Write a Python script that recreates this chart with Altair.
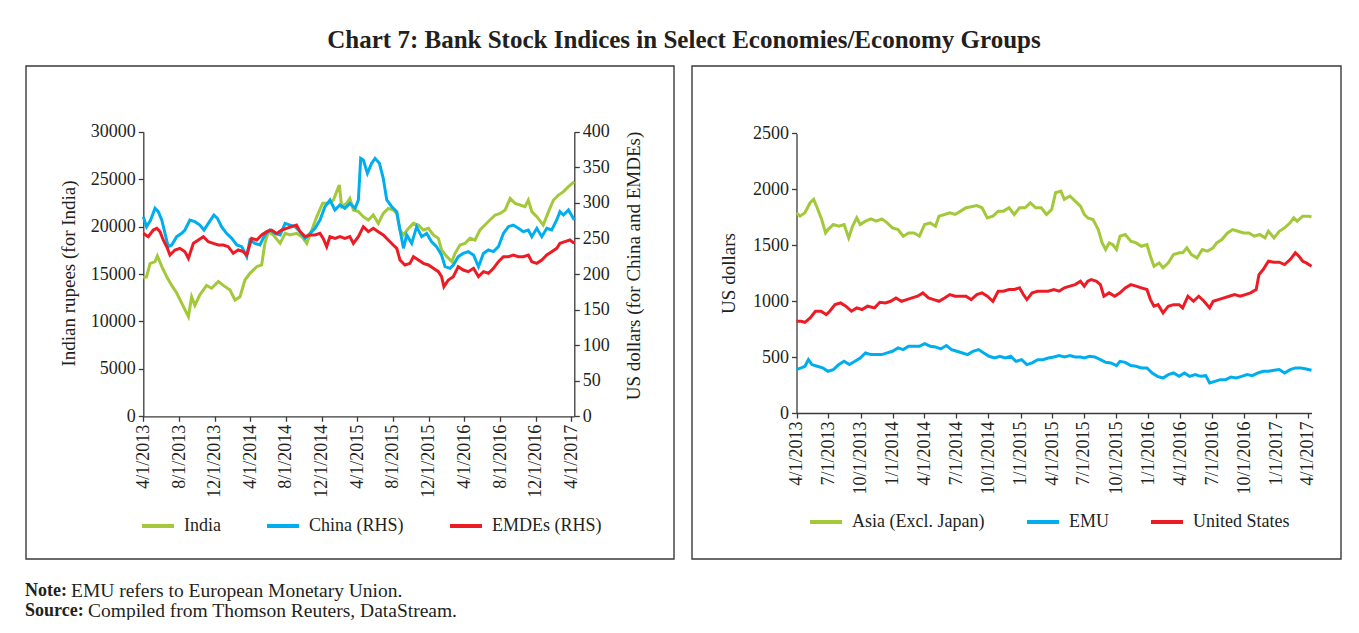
import altair as alt
import pandas as pd

# ---------------- texts ----------------
TITLE = "Chart 7: Bank Stock Indices in Select Economies/Economy Groups"
NOTE_LABEL = "Note:"
NOTE_TEXT = "EMU refers to European Monetary Union."
SOURCE_LABEL = "Source:"
SOURCE_TEXT = "Compiled from Thomson Reuters, DataStream."
LEFT_Y_TITLE = "Indian rupees (for India)"
RHS_Y_TITLE = "US dollars (for China and EMDEs)"
RIGHT_Y_TITLE = "US dollars"

LEFT_SERIES = ["India", "China (RHS)", "EMDEs (RHS)"]
RIGHT_SERIES = ["Asia (Excl. Japan)", "EMU", "United States"]
COLORS = ["#a3c93a", "#00aeef", "#ed1c24"]

# ---------------- axis ticks ----------------
START_DATE = "2013-04-01"
END_DATE = "2017-04-11"
LEFT_X_TICKS = ["2013-04-01", "2013-08-01", "2013-12-01", "2014-04-01", "2014-08-01",
                "2014-12-01", "2015-04-01", "2015-08-01", "2015-12-01", "2016-04-01",
                "2016-08-01", "2016-12-01", "2017-04-01"]
RIGHT_X_TICKS = ["2013-04-01", "2013-07-01", "2013-10-01", "2014-01-01", "2014-04-01",
                 "2014-07-01", "2014-10-01", "2015-01-01", "2015-04-01", "2015-07-01",
                 "2015-10-01", "2016-01-01", "2016-04-01", "2016-07-01", "2016-10-01",
                 "2017-01-01", "2017-04-01"]
LEFT_Y_TICKS = [0, 5000, 10000, 15000, 20000, 25000, 30000]
RHS_Y_TICKS = [0, 50, 100, 150, 200, 250, 300, 350, 400]
RIGHT_Y_TICKS = [0, 500, 1000, 1500, 2000, 2500]

# ---------------- data (days since 1 Apr 2013, index level) ----------------
india_day = [0, 11, 23, 40, 48, 63, 80, 97, 114, 137, 154, 165, 176, 193, 216, 233, 256, 273, 296, 313,
             330, 347, 364, 387, 404, 415, 427, 444, 467, 484, 501, 523, 541, 558, 575, 592, 612, 632, 649, 660,
             669, 677, 694, 705, 717, 734, 751, 768, 785, 802, 819, 836, 853, 865, 876, 888, 905, 922, 939, 956,
             973, 990, 1007, 1018, 1036, 1053, 1064, 1081, 1098, 1115, 1132, 1149, 1166, 1183, 1201, 1218, 1235,
             1252, 1269, 1286, 1303, 1314, 1326, 1343, 1365, 1383, 1400, 1417, 1434, 1451, 1471]
india_val = [14600, 14700, 16100, 16300, 16900, 15800, 14700, 13800, 13000, 11560, 10500, 12600, 11700, 12800,
             13800, 13500, 14200, 13800, 13300, 12260, 12600, 14370, 15070, 15770, 15950, 18230, 19460, 19110,
             18230, 19290, 19110, 19290, 18930, 18230, 19640, 21040, 22450, 22450, 22800, 23680, 24380, 22100,
             22450, 22970, 21750, 21570, 21040, 20690, 21220, 20340, 21390, 21920, 21750, 21390, 19640, 19110,
             19810, 20340, 20160, 19640, 19810, 19110, 18760, 17530, 16830, 16300, 17180, 18060, 18230, 18760,
             18580, 19640, 20160, 20690, 21220, 21390, 21750, 22970, 22450, 22270, 22100, 22800, 21570, 21040,
             20160, 21570, 22800, 23320, 23680, 24200, 24730]

china_day = [0, 11, 25, 40, 51, 63, 74, 85, 97, 114, 131, 142, 159, 176, 193, 207, 222, 241, 253, 267,
             284, 302, 319, 336, 353, 364, 381, 398, 415, 432, 449, 467, 484, 501, 518, 535, 552, 569, 586, 603,
             620, 637, 654, 671, 688, 705, 723, 734, 742, 751, 765, 779, 791, 806, 819, 831, 848, 865, 876, 888,
             899, 916, 933, 950, 967, 984, 1001, 1018, 1030, 1047, 1058, 1075, 1092, 1109, 1127, 1144, 1161, 1178,
             1195, 1212, 1229, 1246, 1263, 1280, 1297, 1314, 1326, 1343, 1360, 1377, 1394, 1411, 1422, 1434,
             1451, 1471]
china_val = [280.6, 266.5, 275.9, 292.3, 287.6, 275.9, 257.1, 238.4, 240.8, 252.5, 257.1, 261.8, 275.9, 273.5,
             268.8, 261.8, 271.2, 282.9, 278.2, 266.5, 257.1, 250.1, 240.8, 238.4, 224.4, 247.8, 243.1, 240.8,
             254.8, 261.8, 257.1, 254.8, 271.2, 268.8, 266.5, 259.5, 250.1, 257.1, 264.2, 275.9, 294.6, 304.0,
             289.9, 297.0, 292.3, 299.3, 292.3, 304.0, 362.5, 360.2, 341.5, 355.5, 362.5, 355.5, 334.4, 304.0,
             294.6, 287.6, 261.8, 236.1, 254.8, 243.1, 266.5, 252.5, 257.1, 245.4, 238.4, 226.7, 210.3, 208.0,
             212.7, 224.4, 229.1, 231.4, 226.7, 210.3, 229.1, 233.7, 231.4, 238.4, 257.1, 266.5, 268.8, 264.2,
             259.5, 261.8, 252.5, 264.2, 252.5, 264.2, 261.8, 275.9, 287.6, 282.9, 289.9, 275.9]

emde_day = [0, 17, 34, 46, 57, 68, 80, 91, 108, 125, 142, 154, 171, 188, 205, 222, 239, 256, 273, 290,
            307, 324, 341, 353, 370, 387, 404, 421, 438, 455, 472, 489, 506, 523, 535, 552, 569, 586, 603, 614,
            626, 637, 654, 671, 688, 705, 717, 734, 751, 768, 785, 802, 819, 836, 853, 865, 876, 893, 910, 922,
            939, 956, 973, 990, 1007, 1018, 1026, 1041, 1058, 1075, 1092, 1109, 1127, 1144, 1161, 1178, 1195,
            1212, 1229, 1246, 1263, 1280, 1297, 1314, 1326, 1343, 1360, 1377, 1394, 1411, 1422, 1439, 1456, 1471]
emde_val = [257.1, 252.5, 261.8, 264.2, 259.5, 247.8, 238.4, 226.7, 233.7, 236.1, 231.4, 222.0, 243.1, 247.8,
            252.5, 245.4, 243.1, 240.8, 240.8, 238.4, 229.1, 233.7, 231.4, 226.7, 250.1, 247.8, 254.8, 259.5,
            261.8, 257.1, 261.8, 264.2, 266.5, 268.8, 259.5, 252.5, 254.8, 254.8, 257.1, 250.1, 238.4, 252.5,
            250.1, 252.5, 250.1, 252.5, 243.1, 252.5, 266.5, 259.5, 264.2, 259.5, 254.8, 247.8, 240.8, 236.1,
            219.7, 212.7, 215.0, 224.4, 219.7, 215.0, 212.7, 208.0, 203.3, 196.3, 182.2, 191.6, 196.3, 210.3,
            205.6, 203.3, 208.0, 196.3, 203.3, 201.0, 208.0, 217.3, 224.4, 224.4, 226.7, 224.4, 224.4, 226.7,
            217.3, 215.0, 219.7, 226.7, 231.4, 236.1, 243.1, 245.4, 247.8, 243.1]

asia_day = [0, 10, 24, 39, 49, 59, 72, 83, 90, 105, 121, 136, 149, 160, 172, 182, 197, 213, 228, 244,
            259, 274, 290, 305, 320, 336, 351, 366, 382, 397, 407, 423, 438, 453, 469, 484, 499, 515, 530, 545,
            561, 576, 591, 607, 622, 637, 653, 668, 683, 699, 714, 729, 740, 755, 765, 781, 796, 811, 822, 832,
            847, 862, 873, 883, 893, 903, 914, 924, 939, 955, 970, 985, 1001, 1011, 1021, 1036, 1047, 1062, 1077,
            1093, 1103, 1115, 1128, 1144, 1159, 1174, 1190, 1200, 1215, 1231, 1246, 1261, 1277, 1292, 1308, 1323,
            1338, 1348, 1364, 1379, 1394, 1410, 1420, 1430, 1446, 1461, 1471]
asia_val = [1790, 1760, 1790, 1880, 1910, 1835, 1730, 1610, 1640, 1685, 1670, 1685, 1566, 1670, 1745, 1685,
            1715, 1736, 1715, 1736, 1700, 1655, 1640, 1581, 1610, 1610, 1581, 1685, 1700, 1670, 1760, 1775,
            1790, 1775, 1805, 1835, 1844, 1855, 1835, 1745, 1760, 1805, 1805, 1835, 1775, 1835, 1835, 1880,
            1835, 1835, 1775, 1820, 1969, 1984, 1910, 1940, 1895, 1850, 1775, 1745, 1730, 1640, 1521, 1462,
            1521, 1506, 1462, 1581, 1596, 1536, 1521, 1491, 1506, 1402, 1313, 1342, 1298, 1342, 1417, 1432,
            1432, 1477, 1417, 1387, 1462, 1447, 1477, 1521, 1551, 1610, 1640, 1625, 1610, 1610, 1581, 1596,
            1566, 1625, 1566, 1625, 1655, 1700, 1745, 1715, 1760, 1760, 1754]

emu_day = [0, 13, 24, 34, 44, 59, 75, 90, 105, 121, 136, 151, 167, 182, 197, 213, 228, 244, 259, 274,
           290, 305, 320, 336, 351, 366, 382, 397, 412, 428, 443, 458, 474, 489, 504, 520, 535, 550, 566, 581,
           596, 612, 627, 643, 658, 673, 689, 704, 719, 735, 750, 765, 781, 796, 811, 822, 837, 852, 868, 883,
           898, 914, 924, 939, 955, 970, 985, 1001, 1016, 1031, 1047, 1062, 1077, 1093, 1108, 1123, 1139, 1154,
           1169, 1180, 1195, 1210, 1226, 1241, 1256, 1272, 1287, 1302, 1318, 1333, 1348, 1364, 1379, 1394, 1410,
           1425, 1441, 1456, 1471]
emu_val = [388, 403, 418, 477, 433, 418, 403, 373, 388, 433, 462, 433, 462, 492, 537, 522, 522, 522, 537, 552,
           582, 567, 597, 597, 597, 620, 597, 591, 573, 603, 567, 552, 537, 522, 552, 567, 537, 507, 492, 507,
           492, 507, 462, 477, 433, 448, 477, 477, 492, 501, 513, 501, 513, 501, 501, 492, 507, 501, 477, 453,
           448, 424, 462, 453, 424, 418, 403, 403, 358, 328, 313, 343, 358, 328, 358, 328, 343, 328, 334, 268,
           283, 298, 298, 322, 313, 328, 343, 334, 358, 373, 373, 382, 388, 358, 388, 403, 403, 394, 382]

us_day = [0, 13, 24, 39, 54, 70, 85, 95, 110, 126, 141, 157, 172, 187, 203, 223, 238, 254, 269, 284,
          300, 315, 330, 346, 361, 377, 392, 407, 423, 438, 453, 469, 484, 499, 515, 530, 545, 561, 576, 591,
          607, 622, 637, 648, 658, 673, 689, 704, 719, 735, 750, 765, 781, 796, 811, 822, 832, 842, 857, 868,
          878, 893, 909, 924, 939, 955, 970, 985, 1001, 1011, 1021, 1033, 1047, 1062, 1077, 1093, 1103, 1118,
          1134, 1149, 1164, 1180, 1190, 1205, 1221, 1236, 1251, 1267, 1282, 1297, 1313, 1321, 1333, 1348, 1364,
          1379, 1394, 1410, 1425, 1435, 1446, 1456, 1471]
us_val = [820, 820, 811, 850, 910, 910, 880, 910, 969, 984, 955, 910, 940, 925, 955, 940, 990, 984, 999, 1029,
          999, 1014, 1029, 1044, 1074, 1029, 1014, 999, 1029, 1059, 1044, 1044, 1044, 1014, 1059, 1074, 1044,
          999, 1089, 1089, 1104, 1104, 1119, 1059, 1014, 1074, 1089, 1089, 1089, 1104, 1089, 1119, 1134, 1148,
          1178, 1134, 1178, 1193, 1178, 1148, 1044, 1074, 1044, 1074, 1119, 1148, 1134, 1119, 1104, 1014, 955,
          969, 895, 955, 969, 969, 940, 1044, 999, 1044, 999, 940, 999, 1014, 1029, 1044, 1059, 1044, 1059,
          1074, 1104, 1238, 1283, 1357, 1348, 1348, 1327, 1372, 1432, 1402, 1357, 1342, 1313]


def frame(days, vals, name):
    dates = pd.Timestamp(START_DATE) + pd.to_timedelta(days, unit="D")
    return pd.DataFrame({"date": dates.strftime("%Y-%m-%dT00:00:00"), "value": vals, "series": name})


def dt(s):
    t = pd.Timestamp(s)
    return alt.DateTime(year=t.year, month=t.month, date=t.day)


india_df = frame(india_day, india_val, LEFT_SERIES[0])
rhs_df = pd.concat([frame(china_day, china_val, LEFT_SERIES[1]),
                    frame(emde_day, emde_val, LEFT_SERIES[2])])
right_df = pd.concat([frame(asia_day, asia_val, RIGHT_SERIES[0]),
                      frame(emu_day, emu_val, RIGHT_SERIES[1]),
                      frame(us_day, us_val, RIGHT_SERIES[2])])

# ---------------- layout (pixels inside the canvas) ----------------
W, H = 1343, 612
LX0, LX1 = 135.3, 566.3
LY0, LY1 = 408.3, 123.7
RX0, RX1 = 788.5, 1303.5
RY0, RY1 = 405.0, 125.4
FONT = "Liberation Serif"
INK = "#231f20"
LINE_W = 3

x_axis_common = dict(orient="bottom", format="%-m/%-d/%Y", labelAngle=270, labelAlign="right",
                     labelBaseline="middle", labelFlush=False, labelOverlap=False, title=None)

x_left = alt.X("date:T",
               scale=alt.Scale(domain=[dt(START_DATE), dt(END_DATE)], range=[LX0, LX1], nice=False),
               axis=alt.Axis(offset=LY0 - H, values=[dt(v) for v in LEFT_X_TICKS], **x_axis_common))
x_right = alt.X("date:T",
                scale=alt.Scale(domain=[dt(START_DATE), dt(END_DATE)], range=[RX0, RX1], nice=False),
                axis=alt.Axis(offset=RY0 - H, values=[dt(v) for v in RIGHT_X_TICKS], **x_axis_common))

legend_common = dict(title=None, orient="none", direction="horizontal", columns=3, symbolType="stroke",
                     symbolSize=1024, symbolStrokeWidth=4, labelFont=FONT, labelFontSize=18,
                     labelColor=INK, labelOffset=8, padding=0, labelLimit=0)
left_legend = alt.Legend(legendX=132, legendY=500, columnPadding=38, **legend_common)
right_legend = alt.Legend(legendX=800, legendY=496, columnPadding=34, **legend_common)

left_color = alt.Color("series:N", scale=alt.Scale(domain=LEFT_SERIES, range=COLORS), legend=left_legend)
right_color = alt.Color("series:N", scale=alt.Scale(domain=RIGHT_SERIES, range=COLORS), legend=right_legend)

india = alt.Chart(india_df).mark_line(strokeWidth=LINE_W).encode(
    x=x_left,
    y=alt.Y("value:Q", scale=alt.Scale(domain=[0, 30000], range=[LY0, LY1]),
            axis=alt.Axis(orient="left", offset=-LX0, values=LEFT_Y_TICKS, format="d",
                          title=LEFT_Y_TITLE, titleAngle=270, titleAlign="center", titleBaseline="middle",
                          titleX=60.5 - LX0, titleY=265)),
    color=left_color,
)
rhs = alt.Chart(rhs_df).mark_line(strokeWidth=LINE_W).encode(
    x=x_left,
    y=alt.Y("value:Q", scale=alt.Scale(domain=[0, 400], range=[LY0, LY1]),
            axis=alt.Axis(orient="right", offset=LX1 - W, values=RHS_Y_TICKS, format="d",
                          title=RHS_Y_TITLE, titleAngle=270, titleAlign="center", titleBaseline="middle",
                          titleX=625.5 - LX1, titleY=257.5)),
    color=left_color,
)
left_panel = alt.layer(india, rhs).resolve_scale(y="independent", x="shared", color="shared")

right_panel = alt.Chart(right_df).mark_line(strokeWidth=LINE_W).encode(
    x=x_right,
    y=alt.Y("value:Q", scale=alt.Scale(domain=[0, 2500], range=[RY0, RY1]),
            axis=alt.Axis(orient="left", offset=-RX0, values=RIGHT_Y_TICKS, format="d",
                          title=RIGHT_Y_TITLE, titleAngle=270, titleAlign="center", titleBaseline="middle",
                          titleX=720 - RX0, titleY=265)),
    color=right_color,
)

one = pd.DataFrame({"k": [0]})
border_left = alt.Chart(one).mark_rect(filled=False, stroke="#3a3a3a", strokeWidth=1.4).encode(
    x=alt.value(18), x2=alt.value(666), y=alt.value(58), y2=alt.value(551))
border_right = alt.Chart(one).mark_rect(filled=False, stroke="#3a3a3a", strokeWidth=1.4).encode(
    x=alt.value(684), x2=alt.value(1333), y=alt.value(58), y2=alt.value(551))


def label(text, x, y, size, weight="normal", align="left"):
    return alt.Chart(pd.DataFrame({"t": [text]})).mark_text(
        font=FONT, fontSize=size, fontWeight=weight, align=align, baseline="middle", color=INK
    ).encode(x=alt.value(x), y=alt.value(y), text="t:N")


title = label(TITLE, 676, 32, 25, "bold", "center")
note_b = label(NOTE_LABEL, 17, 583, 18, "bold")
note_t = label(NOTE_TEXT, 63, 583, 19.5)
src_b = label(SOURCE_LABEL, 17, 603, 18, "bold")
src_t = label(SOURCE_TEXT, 80, 603, 19.5)

chart = alt.layer(
    border_left, border_right, left_panel, right_panel, title, note_b, note_t, src_b, src_t
).resolve_scale(
    x="independent", y="independent", color="independent"
).properties(
    width=W, height=H, padding=0, autosize=alt.AutoSizeParams(type="none")
).configure_view(stroke=None).configure_axis(
    labelFont=FONT, labelFontSize=18, labelColor=INK, titleFont=FONT, titleFontSize=19,
    titleFontWeight="normal", titleColor=INK, domainColor="#3a3a3a", tickColor="#3a3a3a",
    domainWidth=1.3, tickWidth=1.3, tickSize=5, labelPadding=3, grid=False
)

chart.save("out.html", embed_options={"renderer": "svg", "actions": False})
